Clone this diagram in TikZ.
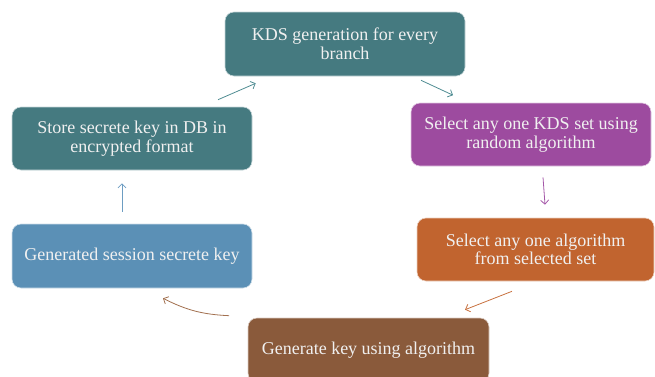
\documentclass[tikz,border=0pt]{standalone}
\usepackage{fontspec}
\setmainfont{Liberation Serif}
\usetikzlibrary{arrows.meta,calc}

\definecolor{cTeal}{HTML}{457A80}
\definecolor{cPurple}{HTML}{9D4B9F}
\definecolor{cOrange}{HTML}{C1642F}
\definecolor{cBrown}{HTML}{8A5A3B}
\definecolor{cBlue}{HTML}{5B90B6}
\definecolor{aTeal}{HTML}{4F8C92}
\definecolor{aPurple}{HTML}{A457A8}
\definecolor{aOrange}{HTML}{C8713F}
\definecolor{aBrown}{HTML}{A2704F}
\definecolor{aBlue}{HTML}{6D9DC2}

\tikzset{
  stepbox/.style={rounded corners=9pt, draw=white!70!#1, line width=0.6pt, fill=#1,
    text=white!94!black, align=center, font=\fontsize{18}{18.5}\selectfont,
    minimum width=240pt, minimum height=64pt, inner sep=2pt},
  flow/.style={draw=#1, line width=0.8pt, -{Straight Barb[length=4pt,width=8pt]}}
}

\begin{document}
\begin{tikzpicture}[x=1pt,y=1pt]
  \useasboundingbox (0,0) rectangle (655,376);

  % process steps, clockwise from the top
  \node[stepbox=cTeal]   (kds) at (345,332)   {KDS generation for every\\branch};
  \node[stepbox=cPurple, minimum height=63pt] (sel) at (531,241.5) {Select any one KDS set using\\random algorithm};
  \node[stepbox=cOrange, minimum width=237pt, minimum height=63pt] (alg) at (535.5,126.5) {Select any one algorithm\\from selected set};
  \node[stepbox=cBrown, minimum width=241pt]  (gen) at (368.5,26)  {Generate key using algorithm};
  \node[stepbox=cBlue]   (ses) at (132,120)   {Generated session secrete key};
  \node[stepbox=cTeal, minimum height=63pt]   (sto) at (132,237.5) {Store secrete key in DB in\\encrypted format};

  % connectors
  \draw[flow=aTeal]   ([xshift=76pt,yshift=-4pt]kds.south) -- ([xshift=-78pt,yshift=7.5pt]sel.north);
  \draw[flow=aPurple] ([xshift=12pt,yshift=-11pt]sel.south) -- ([xshift=9.5pt,yshift=13pt]alg.north);
  \draw[flow=aOrange] ([xshift=-23.5pt,yshift=-10pt]alg.south) -- ([xshift=96.5pt,yshift=8pt]gen.north);
  \draw[flow=aBrown]  ([xshift=-18.5pt,yshift=2pt]gen.north west) to[bend left=12] ([xshift=31pt,yshift=-10pt]ses.south);
  \draw[flow=aBlue]   ([xshift=-10pt,yshift=12pt]ses.north) -- ([xshift=-10pt,yshift=-13pt]sto.south);
  \draw[flow=aTeal]   ([xshift=86pt,yshift=7pt]sto.north) -- ([xshift=31pt,yshift=-7pt]kds.south west);
\end{tikzpicture}
\end{document}
